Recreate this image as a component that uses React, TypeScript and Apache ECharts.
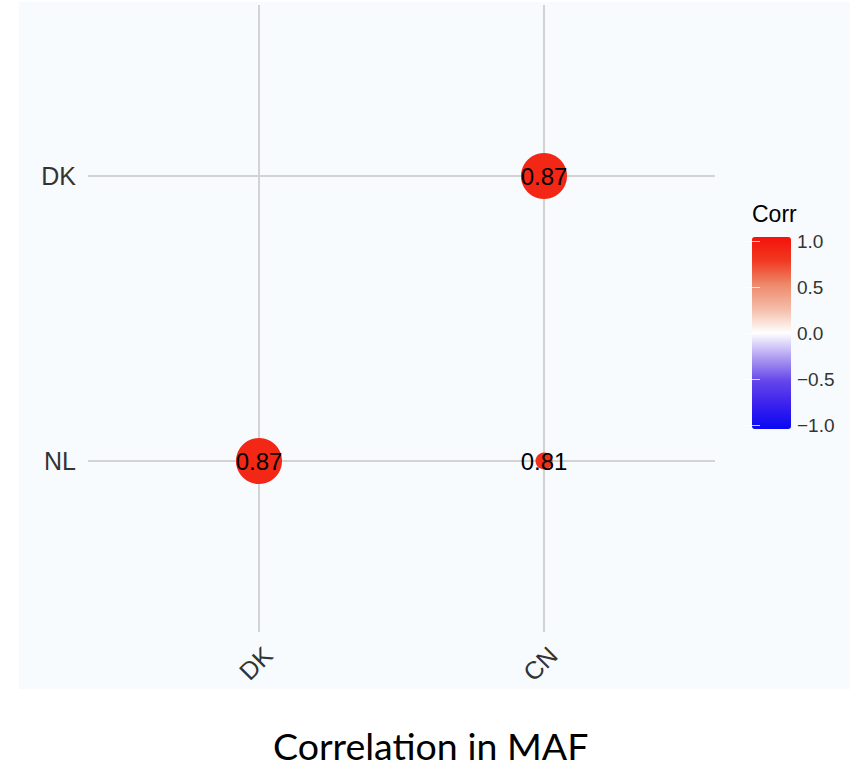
import React, { useEffect, useRef } from "react";
import * as echarts from "echarts";

const xLabels = ["DK", "CN"];
const yLabels = ["NL", "DK"];
const cellX = ["DK", "CN", "CN"];
const cellY = ["NL", "DK", "NL"];
const corrValues = [0.87, 0.87, 0.81];
const legendMin = -1;
const legendMax = 1;
const legendStep = 0.5;
const titleText = "Correlation in MAF";
const legendTitle = "Corr";
const colorStops = [
  "#0808f2",
  "#3a20ee",
  "#6446ea",
  "#b0a0f2",
  "#ffffff",
  "#f4bca8",
  "#ee8a6c",
  "#f03a22",
  "#f4120a",
];

export default function App() {
  const ref = useRef<HTMLDivElement>(null);
  useEffect(() => {
    document.body.style.margin = "0";
    const chart = echarts.init(ref.current!, null, { renderer: "svg" });
    const data = cellX.map((x, i) => [
      xLabels.indexOf(x) + 1,
      yLabels.indexOf(cellY[i]) + 1,
      corrValues[i],
    ]);
    const vMin = Math.min(...corrValues);
    const vMax = Math.max(...corrValues);
    const sizeFor = (v: number) => 17 + ((v - vMin) / (vMax - vMin || 1)) * 29;
    const positions = xLabels.map((_, i) => i + 1);
    const yPositions = yLabels.map((_, i) => i + 1);
    const font = "'Liberation Sans', Arial, sans-serif";
    const gridLine = { show: true, lineStyle: { color: "#d3d3d3", width: 2 } };
    const whiteTick = {
      show: true,
      inside: true,
      length: 8,
      lineStyle: { color: "rgba(255,255,255,0.75)", width: 1 },
    };
    chart.setOption({
      animation: false,
      textStyle: { fontFamily: font },
      title: [
        {
          text: titleText,
          left: 273,
          top: 726,
          padding: 0,
          textStyle: { fontFamily: "Lato, 'Open Sans', sans-serif", fontSize: 37.5, fontWeight: "normal", color: "#000" },
        },
        {
          text: legendTitle,
          left: 752,
          top: 202,
          padding: 0,
          textStyle: { fontFamily: font, fontSize: 23, fontWeight: "normal", color: "#000" },
        },
      ],
      grid: [
        { left: 88, top: 5, width: 627, height: 627 },
        { left: 752, top: 241, width: 39, height: 184 },
      ],
      xAxis: [
        {
          type: "value",
          gridIndex: 0,
          min: 0.4,
          max: 2.6,
          axisLine: { show: false },
          axisTick: { show: false, customValues: positions },
          axisLabel: {
            customValues: positions,
            formatter: (v: number) => xLabels[Math.round(v) - 1] ?? "",
            rotate: 45,
            verticalAlign: "top",
            fontSize: 25,
            color: "#333",
            margin: 10,
          },
          splitLine: gridLine,
        },
        { type: "value", gridIndex: 1, show: false, min: 0, max: 1 },
      ],
      yAxis: [
        {
          type: "value",
          gridIndex: 0,
          min: 0.4,
          max: 2.6,
          axisLine: { show: false },
          axisTick: { show: false, customValues: yPositions },
          axisLabel: {
            customValues: yPositions,
            formatter: (v: number) => yLabels[Math.round(v) - 1] ?? "",
            fontSize: 25,
            color: "#333",
            margin: 12,
          },
          splitLine: gridLine,
        },
        {
          type: "value",
          gridIndex: 1,
          min: legendMin,
          max: legendMax,
          interval: legendStep,
          position: "right",
          z: 10,
          axisLine: { show: false },
          axisTick: whiteTick,
          axisLabel: {
            formatter: (v: number) => (v < 0 ? "\u2212" : "") + Math.abs(v).toFixed(1),
            fontSize: 19,
            color: "#333",
            margin: 6,
          },
          splitLine: { show: false },
        },
        {
          type: "value",
          gridIndex: 1,
          min: legendMin,
          max: legendMax,
          interval: legendStep,
          position: "left",
          z: 10,
          axisLine: { show: false },
          axisTick: whiteTick,
          axisLabel: { show: false },
          splitLine: { show: false },
        },
      ],
      visualMap: {
        type: "continuous",
        min: legendMin,
        max: legendMax,
        dimension: 2,
        seriesIndex: 0,
        inRange: { color: colorStops },
        calculable: false,
        hoverLink: false,
        itemWidth: 39,
        itemHeight: 192,
        left: 752,
        top: 237,
        padding: 0,
      },
      series: [
        {
          type: "scatter",
          xAxisIndex: 0,
          yAxisIndex: 0,
          data,
          symbolSize: (val: number[]) => sizeFor(val[2]),
          itemStyle: { opacity: 1 },
          label: {
            show: true,
            position: "inside",
            formatter: (p: any) => p.value[2].toFixed(2),
            fontSize: 24,
            color: "#000",
            fontFamily: font,
          },
          z: 5,
        },
      ],
    });
    return () => chart.dispose();
  }, []);
  return (
    <div style={{ position: "relative", width: 850, height: 770, background: "#fff" }}>
      <div style={{ position: "absolute", left: 19, top: 2, width: 831, height: 687, background: "#f7fbfe" }} />
      <div ref={ref} style={{ position: "absolute", left: 0, top: 0, width: 850, height: 770 }} />
    </div>
  );
}
